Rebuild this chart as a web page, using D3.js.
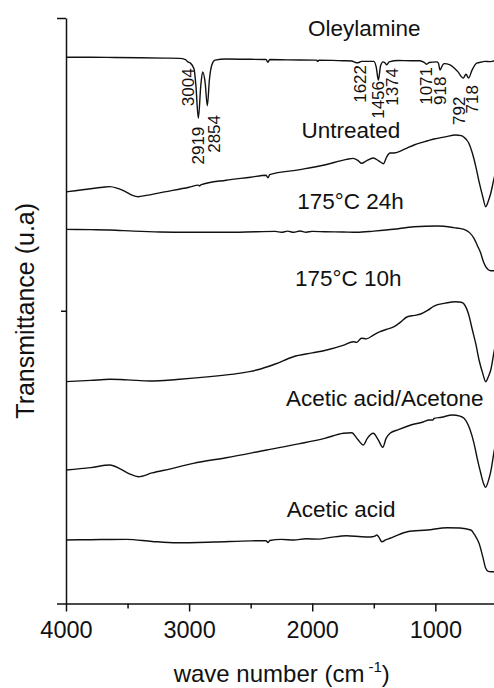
<!DOCTYPE html>
<html>
<head>
<meta charset="utf-8">
<script src="https://cdn.jsdelivr.net/npm/d3@7"></script>
<style>
  html, body { margin: 0; padding: 0; background: #fff; }
  svg { display: block; }
  text { font-family: "Liberation Sans", Arial, sans-serif; fill: #111; }
</style>
</head>
<body>
<svg id="chart" width="494" height="688"></svg>
<script>
// ---------------- DATA ----------------
const seriesNames = ["Oleylamine", "Untreated", "175°C 24h", "175°C 10h", "Acetic acid/Acetone", "Acetic acid"];

const xTicksMajor = [4000, 3000, 2000, 1000];
const xTicksMinor = [3500, 2500, 1500];
const yTicksMajor = [0, 100];
const yTicksMinor = [50];

const peakLabels = ["3004", "2919", "2854", "1622", "1456", "1374", "1071", "918", "792", "718"];

// [wavenumber (cm-1), transmittance (a.u., stacked)]
const oleylamine = [
  [4000, 93.3], [3800, 93.3], [3600, 93.25], [3400, 93.2], [3200, 93.15], [3080, 93.1],
  [3030, 92.9], [3010, 92.5], [2990, 92.3], [2960, 91.3], [2945, 88.5], [2925, 82.9],
  [2905, 88.5], [2890, 90.8], [2870, 89.0], [2852, 85.0], [2835, 89.5], [2815, 92.0],
  [2790, 92.8], [2700, 93.0], [2500, 92.95], [2375, 92.9], [2360, 92.45], [2345, 92.9],
  [2200, 92.85], [1965, 92.8], [1955, 92.6], [1945, 92.8], [1750, 92.7], [1680, 92.65],
  [1640, 92.35], [1620, 92.4], [1600, 92.6], [1500, 92.6], [1480, 91.6], [1463, 89.4],
  [1445, 91.8], [1425, 92.5], [1408, 92.3], [1395, 92.0], [1375, 92.5], [1300, 92.75],
  [1200, 92.7], [1125, 92.7], [1090, 92.4], [1070, 92.1], [1050, 92.4], [990, 92.5],
  [975, 92.3], [962, 91.1], [940, 92.0], [928, 92.2], [881, 92.0], [850, 91.5],
  [816, 90.8], [773, 89.75], [751, 90.4], [730, 89.75], [702, 91.1], [664, 92.3],
  [620, 92.5], [596, 92.6], [560, 92.55], [523, 92.65], [500, 92.6]
];

const untreated = [
  [4000, 70.3], [3850, 70.7], [3700, 71.1], [3643, 71.2], [3580, 70.9], [3521, 70.4],
  [3460, 69.7], [3413, 69.48], [3350, 69.7], [3200, 70.3], [3000, 71.1], [2925, 71.45],
  [2915, 71.3], [2905, 71.5], [2700, 72.3], [2500, 72.8], [2375, 73.15], [2360, 72.7],
  [2345, 73.25], [2100, 74.1], [1900, 74.9], [1720, 75.86], [1669, 76.03], [1630, 75.7],
  [1598, 75.18], [1560, 75.6], [1504, 76.09], [1460, 75.6], [1422, 75.11], [1395, 76.3],
  [1368, 76.94], [1335, 76.95], [1250, 77.6], [1173, 78.31], [1100, 78.8], [1011, 79.33],
  [920, 79.7], [834, 80.02], [790, 79.9], [767, 79.62], [730, 78.7], [699, 76.89],
  [670, 74.5], [645, 72.04], [615, 69.5], [591, 67.77], [570, 68.7], [550, 70.06],
  [523, 72.62], [500, 74.5]
];

const t175_24h = [
  [4000, 63.9], [3800, 63.85], [3643, 63.8], [3450, 63.6], [3237, 63.45], [3000, 63.4],
  [2700, 63.4], [2450, 63.5], [2300, 63.55], [2250, 63.4], [2200, 63.6], [2150, 63.4],
  [2100, 63.62], [2050, 63.42], [2000, 63.55], [1900, 63.5], [1750, 63.45], [1638, 63.4],
  [1500, 63.6], [1344, 63.91], [1173, 64.35], [984, 64.47], [850, 64.2], [767, 63.91],
  [720, 63.3], [686, 62.37], [660, 61.2], [631, 59.81], [610, 58.4], [591, 57.52],
  [570, 57.0], [550, 56.84], [500, 56.84]
];

const t175_10h = [
  [4000, 37.9], [3800, 38.1], [3643, 38.29], [3500, 38.2], [3318, 38.0], [3100, 38.25],
  [2830, 38.74], [2600, 39.3], [2451, 39.88], [2300, 40.9], [2154, 42.15], [2000, 42.8],
  [1882, 43.3], [1750, 44.1], [1666, 44.71], [1640, 44.6], [1600, 45.3], [1560, 45.2],
  [1500, 45.9], [1449, 46.42], [1400, 46.8], [1335, 47.27], [1280, 48.1], [1227, 48.98],
  [1170, 49.2], [1119, 49.44], [1060, 50.1], [1011, 50.81], [920, 51.3], [834, 51.54],
  [790, 51.45], [767, 51.15], [730, 49.4], [699, 46.71], [670, 44.2], [645, 41.59],
  [615, 39.3], [591, 37.88], [570, 38.7], [550, 39.88], [523, 43.0], [500, 45.5]
];

const aceticAcetone = [
  [4000, 22.8], [3800, 23.2], [3643, 23.65], [3560, 23.0], [3480, 22.1], [3413, 21.66],
  [3300, 22.3], [3150, 23.0], [2966, 23.94], [2700, 24.9], [2370, 26.22], [2100, 27.3],
  [1900, 28.2], [1747, 29.07], [1679, 29.17], [1630, 28.0], [1585, 27.07], [1550, 28.3],
  [1504, 29.07], [1465, 28.0], [1427, 26.68], [1400, 28.2], [1368, 29.07], [1300, 29.7],
  [1199, 30.49], [1100, 31.0], [1051, 31.34], [1020, 31.35], [1011, 31.6], [950, 31.8],
  [862, 32.19], [800, 32.0], [767, 31.63], [720, 29.8], [686, 27.36], [660, 24.8],
  [631, 22.24], [610, 20.6], [591, 19.85], [570, 20.9], [550, 22.51], [523, 25.93], [500, 28.5]
];

const aceticAcid = [
  [4000, 10.85], [3800, 10.9], [3507, 10.96], [3300, 10.6], [3101, 10.38], [2800, 10.5],
  [2500, 10.7], [2375, 10.73], [2360, 10.4], [2345, 10.76], [2250, 10.95], [2150, 10.85],
  [2050, 11.05], [1950, 11.0], [1850, 11.3], [1720, 11.58], [1600, 11.4], [1530, 11.36],
  [1490, 11.5], [1476, 11.7], [1455, 11.2], [1435, 10.55], [1400, 10.9], [1368, 11.14],
  [1335, 11.41], [1227, 12.26], [1065, 12.55], [903, 12.95], [800, 12.9], [712, 12.55],
  [680, 11.7], [645, 10.28], [615, 8.0], [591, 6.01], [570, 5.5], [550, 5.43], [500, 5.43]
];

const seriesData = [oleylamine, untreated, t175_24h, t175_10h, aceticAcetone, aceticAcid];

// ---------------- LAYOUT ----------------
const svg = d3.select("#chart");
const x = d3.scaleLinear().domain([4000, 500]).range([66, 496.9]);
const y = d3.scaleLinear().domain([0, 100]).range([603.5, 18]);

// series label positions (left x, baseline y) in px
const seriesLabelPos = [
  [308, 36], [301.5, 138.3], [297.3, 209.3], [295, 286], [286, 406], [286.7, 516.7]
];
// peak label positions (center x, top y) in px
const peakLabelPos = [
  [187.5, 68.3], [197.8, 126.7], [214.2, 115], [360, 65], [377.5, 81],
  [391.7, 68], [426, 67], [440, 76.5], [458.7, 96.5], [472.3, 85]
];

// ---------------- AXES ----------------
const axisColor = "#111";
const gx = svg.append("g").attr("transform", `translate(0,${y(0)})`);
gx.call(d3.axisBottom(x).tickValues(xTicksMajor).tickSize(8).tickSizeOuter(0).tickFormat(d3.format("d")));
gx.selectAll("text").attr("y", 34.5).attr("dy", null)
  .style("font-size", "23.5px").style("font-family", '"Liberation Sans", Arial, sans-serif').attr("fill", "#111");
const gxm = svg.append("g").attr("transform", `translate(0,${y(0)})`);
gxm.call(d3.axisBottom(x).tickValues(xTicksMinor).tickSize(5).tickSizeOuter(0).tickFormat(""));
gxm.select(".domain").remove();

const gy = svg.append("g").attr("transform", `translate(${x(4000)},0)`);
gy.call(d3.axisLeft(y).tickValues(yTicksMajor).tickSize(9).tickSizeOuter(0).tickFormat(""));
const gym = svg.append("g").attr("transform", `translate(${x(4000)},0)`);
gym.call(d3.axisLeft(y).tickValues(yTicksMinor).tickSize(5).tickSizeOuter(0).tickFormat(""));
gym.select(".domain").remove();

svg.selectAll(".domain, .tick line").attr("stroke", axisColor).attr("stroke-width", 1.5);

// ---------------- LINES ----------------
const line = d3.line()
  .x(d => x(d[0]))
  .y(d => y(d[1]))
  .curve(d3.curveMonotoneX);

svg.append("clipPath").attr("id", "plotclip")
  .append("rect").attr("x", x(4000)).attr("y", 0).attr("width", 494 - x(4000)).attr("height", y(0));

svg.append("g").attr("clip-path", "url(#plotclip)")
  .selectAll("path.series")
  .data(seriesData)
  .join("path")
  .attr("class", "series")
  .attr("d", line)
  .attr("fill", "none")
  .attr("stroke", "#111")
  .attr("stroke-width", 1.4)
  .attr("stroke-linejoin", "round");

// ---------------- LABELS ----------------
svg.append("g").selectAll("text")
  .data(seriesNames)
  .join("text")
  .attr("x", (d, i) => seriesLabelPos[i][0])
  .attr("y", (d, i) => seriesLabelPos[i][1])
  .style("font-size", "22.5px")
  .text(d => d);

svg.append("g").selectAll("text")
  .data(peakLabels)
  .join("text")
  .attr("transform", (d, i) => `translate(${peakLabelPos[i][0] + 6},${peakLabelPos[i][1]}) rotate(-90)`)
  .attr("text-anchor", "end")
  .style("font-size", "17px")
  .text(d => d);

// axis titles
const xt = svg.append("text")
  .attr("x", 281.7).attr("y", 681.5)
  .attr("text-anchor", "middle")
  .style("font-size", "24px");
xt.append("tspan").text("wave number (cm");
xt.append("tspan").attr("dx", 4).attr("dy", -10).style("font-size", "15px").text("-1");
xt.append("tspan").attr("dy", 10).text(")");

svg.append("text")
  .attr("transform", "translate(33.5,310.8) rotate(-90)")
  .attr("text-anchor", "middle")
  .style("font-size", "25px")
  .text("Transmittance (u.a)");
</script>
</body>
</html>
